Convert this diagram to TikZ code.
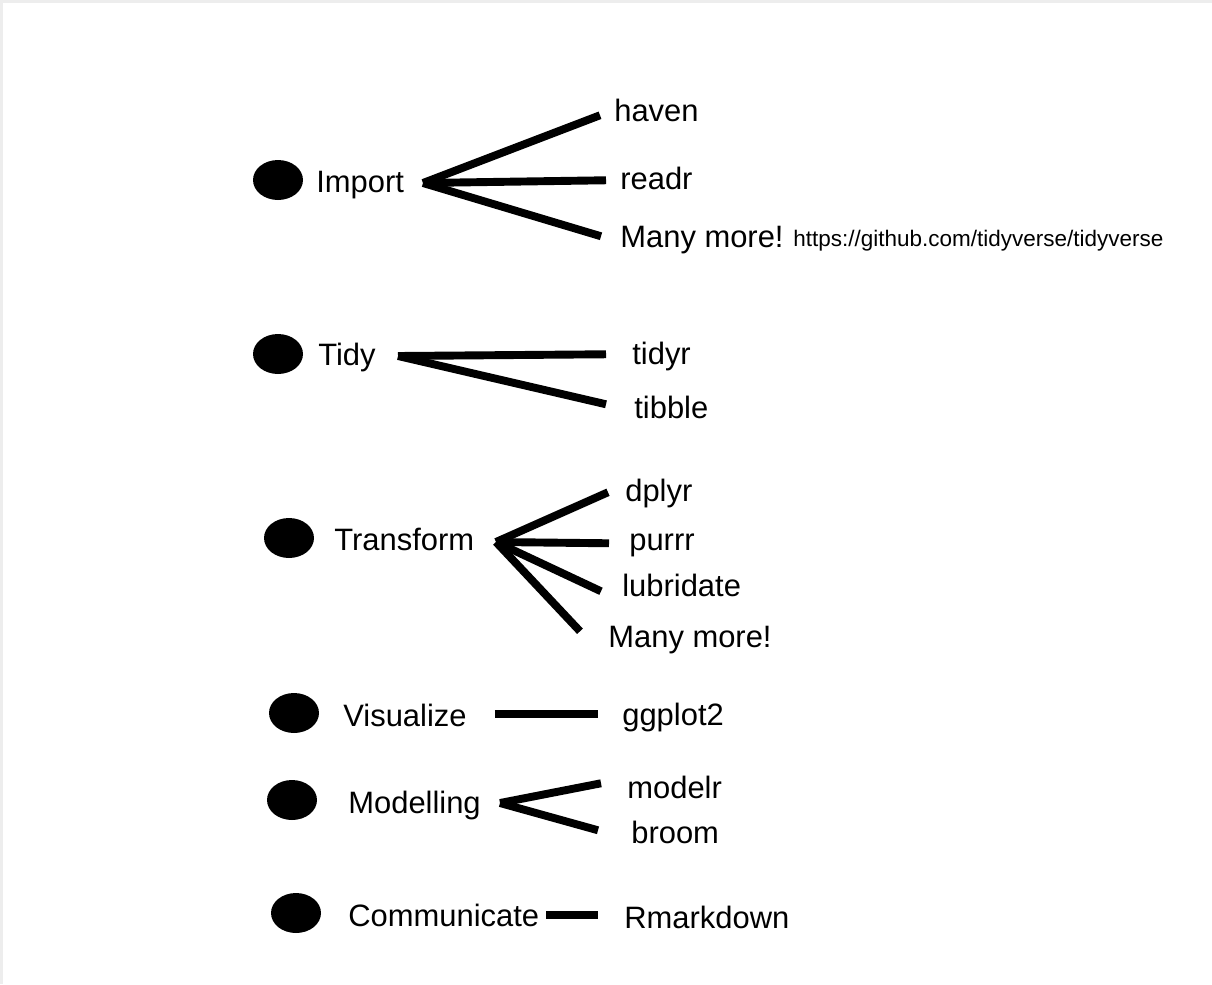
\documentclass[tikz,border=0pt]{standalone}
\usepackage{fontspec}
\setmainfont{Liberation Sans}
\usetikzlibrary{shapes.geometric}

\tikzset{
	dot/.style={ellipse, fill=black, minimum width=1cm, minimum height=0.8cm, inner sep=0},
	item/.style={anchor=base west, inner sep=0, text height=12.5pt, text depth=3.7pt, font=\fontsize{17.6}{20}\selectfont},
	link/.style={line width=4.5pt},
	urltext/.style={anchor=base west, inner sep=0, font=\fontsize{12.8}{15}\selectfont}
}

\begin{document}
\begin{tikzpicture}[x=0.02cm, y=-0.02cm]
			%%%%% START %%%%%
			\useasboundingbox (0, 0) rectangle (1212, 984);
			\draw[line width=2pt, color=black!7] (1, 984) -- (1, 1) -- (1212, 1);
			
			% Import
			\node[dot] (importdot) at (278, 180) {};
			\node[item] (import) at (316, 192) {Import};
			\coordinate (importhub) at (423, 183);
			\node[item] (haven) at (614, 121) {haven};
			\node[item] (readr) at (620, 189) {readr};
			\node[item] (importmore) at (620, 247) {Many more!};
			\node[urltext] (url) at (793, 246) {https://github.com/tidyverse/tidyverse};
			\draw[link] (importhub) -- ([shift={(-14, 2)}]haven.west);
			\draw[link] (importhub) -- ([shift={(-14, -1)}]readr.west);
			\draw[link] (importhub) -- ([shift={(-19, -3)}]importmore.west);
			
			% Tidy
			\node[dot] (tidydot) at (278, 354) {};
			\node[item] (tidy) at (318, 365) {Tidy};
			\coordinate (tidyhub) at (398, 356);
			\node[item] (tidyr) at (632, 364) {tidyr};
			\node[item] (tibble) at (634, 418) {tibble};
			\draw[link] (tidyhub) -- ([shift={(-26, -2)}]tidyr.west);
			\draw[link] (tidyhub) -- ([shift={(-28, -6)}]tibble.west);
			
			% Transform
			\node[dot] (transformdot) at (289, 538) {};
			\node[item] (transform) at (334, 550) {Transform};
			\coordinate (transformhub) at (496, 542);
			\node[item] (dplyr) at (625, 501) {dplyr};
			\node[item] (purrr) at (629, 550) {purrr};
			\node[item] (lubridate) at (622, 596) {lubridate};
			\node[item] (transformmore) at (608, 647) {Many more!};
			\draw[link] (transformhub) -- ([shift={(-17, -1)}]dplyr.west);
			\draw[link] (transformhub) -- ([shift={(-20, 1)}]purrr.west);
			\draw[link] (transformhub) -- ([shift={(-21, 3)}]lubridate.west);
			\draw[link] (transformhub) -- ([shift={(-28, -8)}]transformmore.west);
			
			% Visualize
			\node[dot] (visualizedot) at (294, 713) {};
			\node[item] (visualize) at (343, 726) {Visualize};
			\node[item] (ggplot) at (622, 725) {ggplot2};
			\draw[link] ([shift={(28, -4)}]visualize.east) -- ([shift={(-24, -3)}]ggplot.west);
			
			% Modelling
			\node[dot] (modellingdot) at (292, 800) {};
			\node[item] (modelling) at (348, 813) {Modelling};
			\coordinate (modellinghub) at (500, 803);
			\node[item] (modelr) at (627, 798) {modelr};
			\node[item] (broom) at (631, 843) {broom};
			\draw[link] (modellinghub) -- ([shift={(-26, -7)}]modelr.west);
			\draw[link] (modellinghub) -- ([shift={(-33, -5)}]broom.west);
			
			% Communicate
			\node[dot] (communicatedot) at (296, 913) {};
			\node[item] (communicate) at (348, 926) {Communicate};
			\node[item] (rmarkdown) at (624, 928) {Rmarkdown};
			\draw[link] ([shift={(7, -3)}]communicate.east) -- ([shift={(-26, -5)}]rmarkdown.west);
			
			%%%%% END %%%%%
		\end{tikzpicture}
\end{document}
